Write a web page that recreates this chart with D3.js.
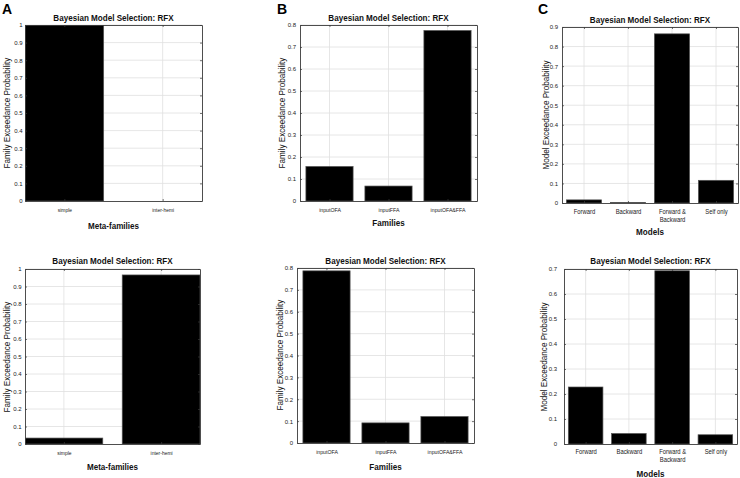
<!DOCTYPE html>
<html><head><meta charset="utf-8">
<script src="https://cdn.jsdelivr.net/npm/d3@7"></script>
<style>body{margin:0;background:#fff} svg{display:block;font-family:"Liberation Sans",Arial,Helvetica,sans-serif}</style>
</head><body><svg id="c" width="740" height="478"></svg>
<script>
// ---------- data ----------
const metaFamilies = ["simple", "inter-hemi"];
const families = ["inputOFA", "inputFFA", "inputOFA&FFA"];
const models = ["Forward", "Backward", "Forward &\nBackward", "Self only"];

const valuesA1 = [1.0, 0.0];
const valuesA2 = [0.034, 0.966];
const valuesB1 = [0.157, 0.068, 0.775];
const valuesB2 = [0.787, 0.092, 0.121];
const valuesC1 = [0.016, 0.003, 0.865, 0.116];
const valuesC2 = [0.228, 0.042, 0.693, 0.037];

const ticks10 = [0, 0.1, 0.2, 0.3, 0.4, 0.5, 0.6, 0.7, 0.8, 0.9, 1];
const ticks09 = [0, 0.1, 0.2, 0.3, 0.4, 0.5, 0.6, 0.7, 0.8, 0.9];
const ticks08 = [0, 0.1, 0.2, 0.3, 0.4, 0.5, 0.6, 0.7, 0.8];
const ticks07 = [0, 0.1, 0.2, 0.3, 0.4, 0.5, 0.6, 0.7];

const titleText = "Bayesian Model Selection: RFX";
const famLabel = "Family Exceedance Probability";
const modLabel = "Model Exceedance Probability";

// ---------- layout ----------
const panels = [
  {cats: metaFamilies, values: valuesA1, yticks: ticks10, ylabel: famLabel, xlabel: "Meta-families",
   l: 25, r: 202, t: 25, b: 201, xlim: [0.6, 2.4], titleY: 20.5, ylx: 10, yly: 113, tickEnd: 22.5,
   xtickY: 212, xtickFs: 5.5, xlabY: 229, letter: "A", lx: 2, ly: 14},
  {cats: metaFamilies, values: valuesA2, yticks: ticks10, ylabel: famLabel, xlabel: "Meta-families",
   l: 25, r: 200, t: 269, b: 444, xlim: [0.6, 2.4], titleY: 264, ylx: 10, yly: 357, tickEnd: 21.5,
   xtickY: 455, xtickFs: 5.5, xlabY: 470},
  {cats: families, values: valuesB1, yticks: ticks08, ylabel: famLabel, xlabel: "Families",
   l: 300, r: 477, t: 25, b: 201, xlim: [0.5, 3.5], titleY: 20.5, ylx: 285, yly: 113, tickEnd: 296,
   xtickY: 212, xtickFs: 5.8, xlabY: 226, letter: "B", lx: 277, ly: 14},
  {cats: families, values: valuesB2, yticks: ticks08, ylabel: famLabel, xlabel: "Families",
   l: 297, r: 474, t: 268, b: 443, xlim: [0.5, 3.5], titleY: 263.5, ylx: 283, yly: 355, tickEnd: 293,
   xtickY: 454, xtickFs: 5.8, xlabY: 470},
  {cats: models, values: valuesC1, yticks: ticks09, ylabel: modLabel, xlabel: "Models",
   l: 562, r: 738, t: 27, b: 203, xlim: [0.5, 4.5], titleY: 22.5, ylx: 549, yly: 115, tickEnd: 558,
   xtickY: 214, xtickFs: 6.5, xlabY: 235, letter: "C", lx: 538, ly: 14},
  {cats: models, values: valuesC2, yticks: ticks07, ylabel: modLabel, xlabel: "Models",
   l: 564, r: 737, t: 269, b: 444, xlim: [0.5, 4.5], titleY: 263.5, ylx: 547, yly: 357, tickEnd: 557,
   xtickY: 454, xtickFs: 6.5, xlabY: 477}
];

const svg = d3.select("#c");
svg.append("rect").attr("width", 740).attr("height", 478).attr("fill", "#fff");

function condense(sel, f) {
  sel.each(function () {
    const w = this.getComputedTextLength();
    if (w > 0) {
      this.setAttribute("textLength", (w * f).toFixed(2));
      this.setAttribute("lengthAdjust", "spacingAndGlyphs");
    }
  });
}

const axisColor = "#3a3a3a";

panels.forEach((p, pi) => {
  const g = svg.append("g");
  const x = d3.scaleLinear().domain(p.xlim).range([p.l, p.r]);
  const y = d3.scaleLinear().domain([0, d3.max(p.yticks)]).range([p.b, p.t]);
  const idx = p.cats.map((c, i) => i + 1);

  // grid
  g.append("g").selectAll("line").data(p.yticks.slice(1)).join("line")
    .attr("x1", p.l).attr("x2", p.r).attr("y1", d => y(d)).attr("y2", d => y(d))
    .attr("stroke", "#e0e0e0").attr("stroke-width", 0.8);
  g.append("g").selectAll("line").data(idx).join("line")
    .attr("x1", d => x(d)).attr("x2", d => x(d)).attr("y1", p.t).attr("y2", p.b)
    .attr("stroke", "#e0e0e0").attr("stroke-width", 0.8);

  // clip
  const cid = "clip" + pi;
  svg.append("clipPath").attr("id", cid).append("rect")
    .attr("x", p.l).attr("y", p.t).attr("width", p.r - p.l).attr("height", p.b - p.t);

  // bars
  g.append("g").attr("clip-path", `url(#${cid})`).selectAll("rect").data(p.values).join("rect")
    .attr("x", (d, i) => x(i + 1 - 0.4))
    .attr("width", x(1.4) - x(0.6))
    .attr("y", d => y(d))
    .attr("height", d => y(0) - y(d))
    .attr("fill", "#000").attr("stroke", "#555").attr("stroke-width", 0.7);

  // axes
  const yAx = g.append("g").attr("transform", `translate(${p.l},0)`)
    .call(d3.axisLeft(y).tickValues(p.yticks).tickSizeInner(-2).tickSizeOuter(0)
      .tickPadding(p.l - p.tickEnd).tickFormat(d3.format("~g")));
  g.append("g").attr("transform", `translate(${p.r},0)`)
    .call(d3.axisRight(y).tickValues(p.yticks).tickSizeInner(-2).tickSizeOuter(0).tickFormat(""));
  const xAx = g.append("g").attr("transform", `translate(0,${p.b})`)
    .call(d3.axisBottom(x).tickValues(idx).tickSizeInner(-2).tickSizeOuter(0)
      .tickFormat(i => p.cats[i - 1]));
  g.append("g").attr("transform", `translate(0,${p.t})`)
    .call(d3.axisTop(x).tickValues(idx).tickSizeInner(-2).tickSizeOuter(0).tickFormat(""));

  g.selectAll(".domain").attr("stroke", axisColor).attr("stroke-width", 0.9);
  g.selectAll(".tick line").attr("stroke", axisColor).attr("stroke-width", 0.7);

  yAx.selectAll("text").attr("fill", "#222").style("font-size", "6px")
    .style("font-family", '"Liberation Sans",Arial,sans-serif');

  xAx.selectAll("text").each(function (d) {
    const t = d3.select(this);
    const lines = p.cats[d - 1].split("\n");
    t.text(null).attr("y", p.xtickY - p.b).attr("dy", 0).attr("fill", "#222")
      .style("font-size", p.xtickFs + "px").style("font-family", '"Liberation Sans",Arial,sans-serif');
    lines.forEach((ln, k) => {
      t.append("tspan").attr("x", 0).attr("y", p.xtickY - p.b + k * 8).text(ln);
    });
  });
  condense(xAx.selectAll("tspan"), 0.9);

  // title
  g.append("text").attr("x", (p.l + p.r) / 2).attr("y", p.titleY)
    .attr("text-anchor", "middle").style("font-size", "8.5px").style("font-weight", "bold")
    .attr("fill", "#111").text(titleText).call(condense, 0.95);

  // y label
  g.append("text").attr("transform", `translate(${p.ylx},${p.yly}) rotate(-90)`)
    .attr("text-anchor", "middle").style("font-size", "9px").attr("fill", "#111")
    .text(p.ylabel).call(condense, 0.9);

  // x label
  g.append("text").attr("x", (p.l + p.r) / 2).attr("y", p.xlabY)
    .attr("text-anchor", "middle").style("font-size", "9.5px").style("font-weight", "bold")
    .attr("fill", "#111").text(p.xlabel).call(condense, 0.85);

  if (p.letter) {
    svg.append("text").attr("x", p.lx).attr("y", p.ly)
      .style("font-size", "14px").style("font-weight", "bold").attr("fill", "#000")
      .text(p.letter);
  }
});
</script>
</body></html>
